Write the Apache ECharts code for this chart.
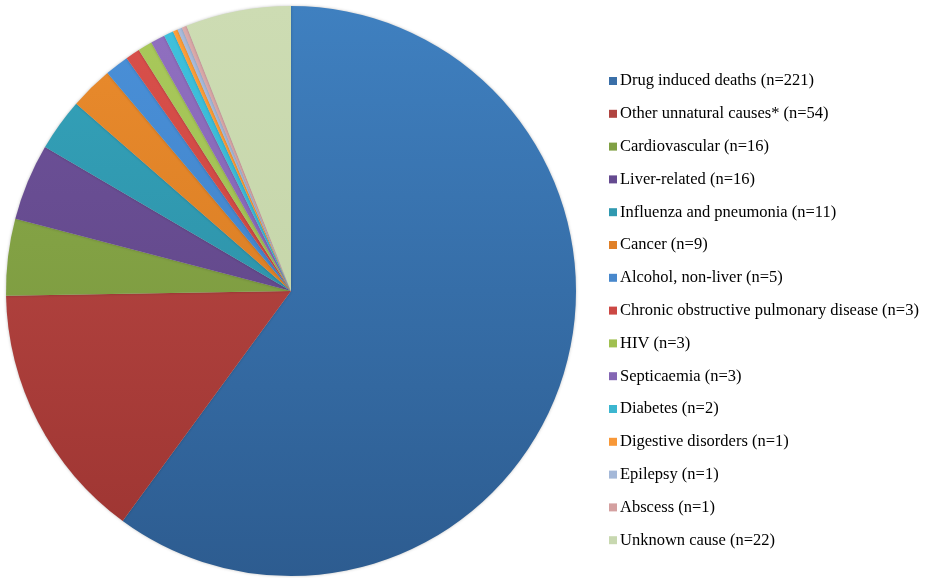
<!DOCTYPE html>
<html><head><meta charset="utf-8">
<script src="https://cdn.jsdelivr.net/npm/echarts@6/dist/echarts.min.js"></script>
<style>html,body{margin:0;padding:0;background:#fff}#c{width:927px;height:578px}</style>
</head><body><div id="c"></div>
<script>
const categories = ["Drug induced deaths (n=221)","Other unnatural causes* (n=54)","Cardiovascular (n=16)","Liver-related (n=16)","Influenza and pneumonia (n=11)","Cancer (n=9)","Alcohol, non-liver (n=5)","Chronic obstructive pulmonary disease (n=3)","HIV (n=3)","Septicaemia (n=3)","Diabetes (n=2)","Digestive disorders (n=1)","Epilepsy (n=1)","Abscess (n=1)","Unknown cause (n=22)"];
const values = [221,54,16,16,11,9,5,3,3,3,2,1,1,1,22];
const topColors = ["#3f80c0","#c04c48","#8cad4b","#6f539c","#34a3bb","#ea8b2d","#4a90d8","#d9504b","#a9c95b","#9070c0","#3fc1dd","#ffa03a","#a9bcdc","#dcaaaa","#cddcb3"];
const botColors = ["#2d5c90","#9c3431","#74903a","#5a417e","#2a879c","#cf761f","#3c7cc0","#c2403b","#97b64b","#7c5cab","#32abc6","#f08f2a","#99aecf","#cc9797","#c0d1a3"];
const legendColors = ["#3a6fa8","#b04440","#80a044","#654a90","#3099b0","#e08028","#4888cc","#cc4844","#a0c050","#8466b4","#3cb6d0","#f89838","#a4b8d8","#d4a0a0","#c8d8b0"];

const chart = echarts.init(document.getElementById('c'));
const data = categories.map((n,i)=>({
  name:n, value:values[i],
  itemStyle:{color:new echarts.graphic.LinearGradient(0,6,0,576,[{offset:0,color:topColors[i]},{offset:1,color:botColors[i]}],true)}
}));
chart.setOption({
  animation:false,
  backgroundColor:'#fff',
  legend:{
    orient:'vertical', left:604, top:67,
    itemWidth:8, itemHeight:8, itemGap:14.8,
    icon:'rect',
    textStyle:{fontFamily:'Liberation Serif', fontSize:16.5, lineHeight:18, color:'#000', padding:[0,0,0,-2]},
    data:categories.map((n,i)=>({name:n, itemStyle:{color:legendColors[i]}}))
  },
  series:[{
    type:'pie', center:[291,291], radius:[0,285],
    startAngle:90, clockwise:true,
    label:{show:false}, labelLine:{show:false},
    itemStyle:{shadowBlur:3, shadowColor:'rgba(0,0,0,0.25)'},
    emphasis:{disabled:true},
    data:data
  }]
});
</script></body></html>
